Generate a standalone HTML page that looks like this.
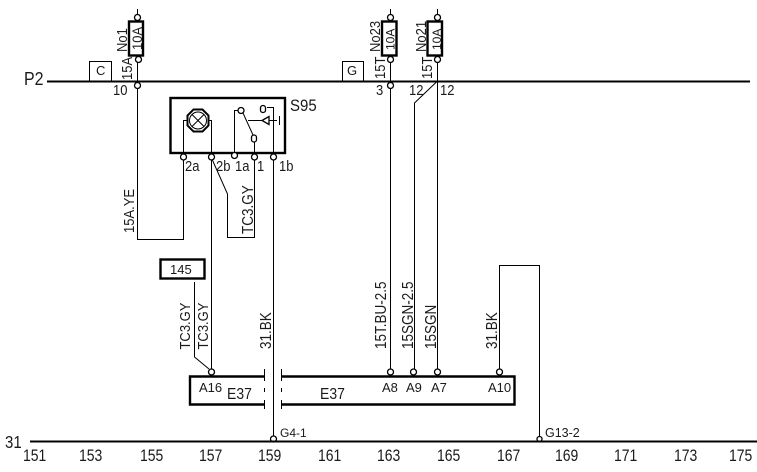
<!DOCTYPE html>
<html><head><meta charset="utf-8">
<style>
html,body{margin:0;padding:0;background:#fff;width:757px;height:472px;overflow:hidden}
svg{display:block}
text{font-family:"Liberation Sans",Arial,sans-serif;fill:#1a1a1a}
.ax{font-size:14px}
.m{font-size:13px}
.r{font-size:13.5px}
.s{font-size:12px}
.l{stroke:#000;stroke-width:1;fill:none}
.t{stroke:#000;stroke-width:2;fill:none}
.w{stroke:#000;stroke-width:2.4;fill:#fff}
.c{stroke:#000;stroke-width:1.3;fill:#fff}
</style></head><body>
<svg width="757" height="472" viewBox="0 0 757 472" xmlns="http://www.w3.org/2000/svg">
<!-- rails -->
<path class="t" d="M47 81.500H750M30 441.500H757"/>
<text transform="translate(24 85) scale(1 1.15)" style="font-size:16px">P2</text>
<text transform="translate(5 448) scale(1 1.15)" style="font-size:15px">31</text>
<!-- wires -->
<path class="l" d="M137.500 9V81M137.500 81V239.500H183.500V158"/>
<path class="l" d="M211.500 158V369M211.500 158L227.500 194V237.500H254.500V158"/>
<path class="l" d="M273.500 158V438"/>
<path class="l" d="M390.500 9V81M390.500 81V369"/>
<path class="l" d="M437.500 9V369M437.500 81L414.500 103V369"/>
<path class="l" d="M499.500 369V265.500H539.500V441"/>
<path class="l" d="M194.500 282V357L209 369"/>
<!-- boxes -->
<rect x="89.500" y="61.500" width="22" height="20" class="l"/>
<text x="96" y="75" class="m">C</text>
<rect x="342.500" y="61.500" width="21" height="20" class="l"/>
<text x="347" y="75" class="m">G</text>
<text transform="translate(113 95) scale(1 1.1)" class="m">10</text>
<text transform="translate(376 95) scale(1 1.1)" class="m">3</text>
<text transform="translate(409 95) scale(1 1.1)" class="m">12</text>
<text transform="translate(440 95) scale(1 1.1)" class="m">12</text>
<!-- fuses -->
<rect x="129" y="21.500" width="14" height="34" class="w"/>
<rect x="382" y="21.500" width="14.500" height="34" class="w"/>
<rect x="427.500" y="21.500" width="14.500" height="34" class="w"/>
<circle cx="137.500" cy="17.500" r="3" class="c"/><circle cx="138.500" cy="59.500" r="3" class="c"/><circle cx="137.500" cy="85.500" r="3" class="c"/>
<circle cx="390.500" cy="17.500" r="3" class="c"/><circle cx="390.500" cy="59.500" r="3" class="c"/><circle cx="390.500" cy="85.500" r="3" class="c"/>
<circle cx="437.500" cy="17.500" r="3" class="c"/><circle cx="437.500" cy="59.500" r="3" class="c"/>
<text transform="translate(127 52) rotate(-90) scale(1 1.1)" class="m">No1</text>
<text transform="translate(142 50) rotate(-90) scale(1 1.05)" class="m">10A</text>
<text transform="translate(132 80) rotate(-90) scale(1 1.1)" class="m">15A</text>
<text transform="translate(380 52) rotate(-90) scale(1 1.1)" class="m">No23</text>
<text transform="translate(394.500 50) rotate(-90)" class="s">10A</text>
<text transform="translate(385 79) rotate(-90) scale(1 1.1)" class="m">15T</text>
<text transform="translate(426 52) rotate(-90) scale(1 1.1)" class="m">No21</text>
<text transform="translate(441 50) rotate(-90)" class="s">10A</text>
<text transform="translate(432 79) rotate(-90) scale(1 1.1)" class="m">15T</text>
<!-- S95 -->
<rect x="170.500" y="98" width="114.500" height="55" class="w"/>
<text transform="translate(290 111) scale(1 1.1)" style="font-size:15px">S95</text>
<path class="l" d="M183.500 153V120.500H187M209 120.500H211.500V153"/>
<path class="t" d="M193.500 109.500H202.500L208.500 115.500V125.500L202.500 131.500H193.500L187.500 125.500V115.500Z"/>
<circle cx="198" cy="120.500" r="8.500" class="l"/>
<path class="l" d="M192 114.500L204 126.500M204 114.500L192 126.500"/>
<path class="l" d="M234.500 153V110.500H238M243 113L253 135M254.500 142V153M248 120.500H262M269 120.500H277M279.500 116V125M267 107.500H273.500V153"/>
<circle cx="241" cy="110.500" r="3" class="c"/>
<rect x="251.500" y="135" width="5" height="7" rx="2.400" class="c"/>
<rect x="260.500" y="105.500" width="5" height="7" rx="2.400" class="c"/>
<path class="c" d="M262 120.500L269 116.500V124.500Z"/>
<circle cx="183.500" cy="157" r="3" class="c"/><circle cx="211.500" cy="157" r="3" class="c"/><circle cx="234.500" cy="155.500" r="3" class="c"/><circle cx="254.500" cy="157" r="3" class="c"/><circle cx="273.500" cy="157" r="3" class="c"/>
<text transform="translate(185 171) scale(1 1.1)" class="m">2a</text>
<text transform="translate(216 171) scale(1 1.1)" class="m">2b</text>
<text transform="translate(235 171) scale(1 1.1)" class="m">1a</text>
<text transform="translate(257 171) scale(1 1.1)" class="m">1</text>
<text transform="translate(279 171) scale(1 1.1)" class="m">1b</text>
<text transform="translate(134 233) rotate(-90) scale(1 1.15)" class="m">15A.YE</text>
<text transform="translate(253 234) rotate(-90) scale(1 1.15)" style="font-size:13.500px">TC3.GY</text>
<!-- 145 -->
<rect x="160.500" y="259.500" width="44" height="19" class="w"/>
<text x="170" y="274" class="m">145</text>
<text transform="translate(190 349.500) rotate(-90) scale(1 1.15)" class="m">TC3.GY</text>
<text transform="translate(208 349.500) rotate(-90) scale(1 1.15)" class="m">TC3.GY</text>
<text transform="translate(271 349) rotate(-90) scale(1 1.15)" class="r">31.BK</text>
<text transform="translate(386 349) rotate(-90) scale(1 1.15)" class="r">15T.BU-2.5</text>
<text transform="translate(413 349) rotate(-90) scale(1 1.15)" class="r">15SGN-2.5</text>
<text transform="translate(436 349) rotate(-90) scale(1 1.15)" class="r">15SGN</text>
<text transform="translate(497 349) rotate(-90) scale(1 1.15)" class="r">31.BK</text>
<!-- E37 -->
<path class="t" d="M264 376.500H190V404.500H264M281 376.500H514.500V404.500H281" style="stroke-width:2.400"/>
<path class="l" d="M264.500 369V381M264.500 400V409M264.500 388V392M281.500 369V381M281.500 400V409M281.500 388V392"/>
<circle cx="211.500" cy="372" r="3" class="c"/><circle cx="390.500" cy="372" r="3" class="c"/><circle cx="413.500" cy="372" r="3" class="c"/><circle cx="437.500" cy="372" r="3" class="c"/><circle cx="499.500" cy="372" r="3" class="c"/>
<text x="199" y="392" class="m">A16</text>
<text transform="translate(227 399) scale(1 1.15)" style="font-size:14px">E37</text>
<text transform="translate(320 399) scale(1 1.15)" style="font-size:14px">E37</text>
<text x="382" y="392" class="m">A8</text>
<text x="406" y="392" class="m">A9</text>
<text x="431" y="392" class="m">A7</text>
<text x="488" y="392" class="m">A10</text>
<!-- grounds -->
<circle cx="273.500" cy="439" r="3" class="c"/>
<circle cx="539.500" cy="439" r="2.500" class="c"/>
<path class="t" d="M30 441.500H757"/>
<text x="280" y="437" class="s">G4-1</text>
<text x="545" y="437" style="font-size:12.500px">G13-2</text>
<!-- axis -->
<g class="ax" transform="translate(0 461) scale(1 1.2)">
<text x="23" y="0">151</text><text x="79" y="0">153</text><text x="140" y="0">155</text><text x="199" y="0">157</text><text x="258" y="0">159</text><text x="318" y="0">161</text><text x="377" y="0">163</text><text x="437" y="0">165</text><text x="497" y="0">167</text><text x="555" y="0">169</text><text x="614" y="0">171</text><text x="674" y="0">173</text><text x="729" y="0">175</text>
</g>
</svg>
</body></html>
